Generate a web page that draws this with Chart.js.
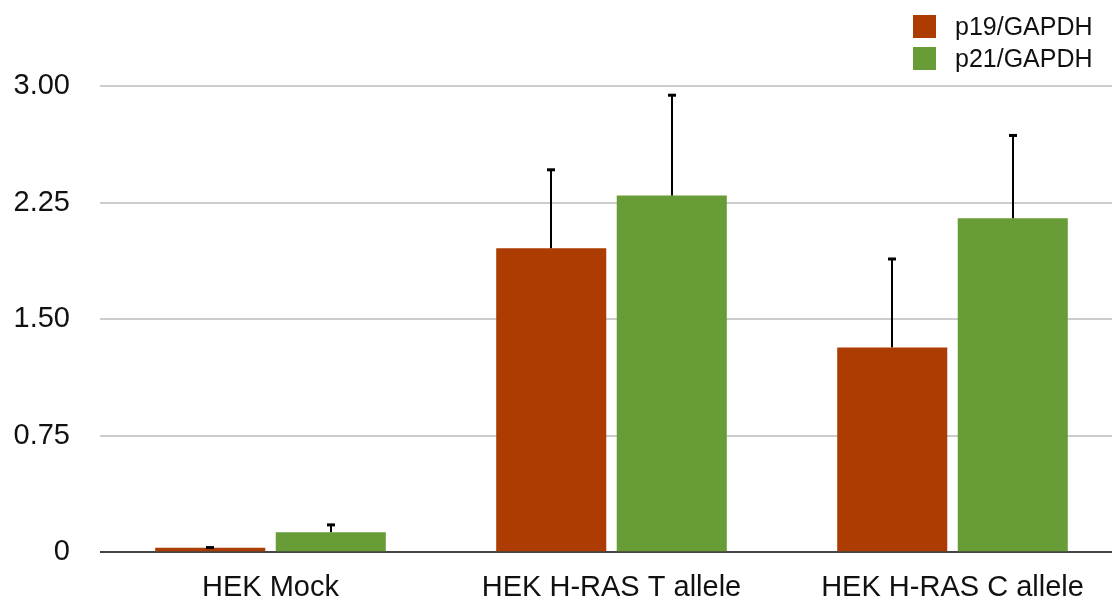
<!DOCTYPE html>
<html>
<head>
<meta charset="utf-8">
<script src="https://cdn.jsdelivr.net/npm/chart.js@4/dist/chart.umd.min.js"></script>
<style>
  html, body { margin: 0; padding: 0; background: #fff; overflow: hidden; }
  /* the original is a crop: the plot runs a little past the right and bottom edges */
  #wrap { position: relative; width: 1112px; height: 597px; overflow: hidden; }
  #chart { display: block; }
  #legend {
    position: absolute; left: 913px; top: 15px;
    font-family: "Liberation Sans", Arial, sans-serif; font-size: 25px; color: #111;
  }
  .item { display: flex; align-items: center; height: 23px; margin-bottom: 9px; }
  .box { width: 23px; height: 23px; margin-right: 19px; }
</style>
</head>
<body>
<div id="wrap">
  <canvas id="chart" width="1123" height="623" style="width:1123px;height:623px"></canvas>
  <div id="legend"></div>
</div>
<script>
const categories = ["HEK Mock", "HEK H-RAS T allele", "HEK H-RAS C allele"];
const seriesNames = ["p19/GAPDH", "p21/GAPDH"];
const p19Values = [0.028, 1.956, 1.318];
const p21Values = [0.129, 2.295, 2.149];
const p19Errors = [0.005, 0.508, 0.572];
const p21Errors = [0.05, 0.649, 0.536];
const yTickValues = [0, 0.75, 1.5, 2.25, 3];
const yTickLabels = ["0", "0.75", "1.50", "2.25", "3.00"];
const seriesColors = ["#ad3c02", "#679c36"];

// upward error bars with a small cap
const errorBars = {
  id: "errorBars",
  afterDatasetsDraw(chart) {
    const ctx = chart.ctx;
    const yScale = chart.scales.y;
    ctx.save();
    ctx.fillStyle = "#000";
    chart.data.datasets.forEach((ds, i) => {
      const meta = chart.getDatasetMeta(i);
      meta.data.forEach((bar, j) => {
        const top = yScale.getPixelForValue(ds.data[j] + ds.errors[j]);
        const x = Math.round(bar.x);
        ctx.fillRect(x - 1, top, 2, bar.y - top);
        ctx.fillRect(x - 4, top - 1, 8, 3);
      });
    });
    ctx.restore();
  },
};

const ctx = document.getElementById("chart").getContext("2d");
const chart = new Chart(ctx, {
  type: "bar",
  data: {
    labels: categories,
    datasets: [
      {
        label: seriesNames[0],
        data: p19Values,
        errors: p19Errors,
        backgroundColor: seriesColors[0],
        borderWidth: 0,
      },
      {
        label: seriesNames[1],
        data: p21Values,
        errors: p21Errors,
        backgroundColor: seriesColors[1],
        borderWidth: 0,
      },
    ],
  },
  options: {
    responsive: false,
    animation: false,
    layout: {
      padding: { top: 86, left: 0, right: 0, bottom: 0 },
    },
    datasets: {
      bar: {
        categoryPercentage: 0.707,
        barPercentage: 0.913,
      },
    },
    plugins: {
      legend: { display: false },
      tooltip: { enabled: false },
    },
    scales: {
      x: {
        grid: { display: false, drawTicks: false },
        border: { display: false },
        ticks: {
          padding: 18,
          color: "#111",
          maxRotation: 0,
          font: { family: "'Liberation Sans', Arial, sans-serif", size: 29 },
        },
      },
      y: {
        min: 0,
        max: 3,
        afterBuildTicks: (scale) => {
          scale.ticks = yTickValues.map((v) => ({ value: v }));
        },
        afterFit: (scale) => {
          scale.width = 100;
        },
        grid: {
          drawTicks: false,
          color: (c) => (c.tick && c.tick.value === 0 ? "#444" : "#cccccc"),
          lineWidth: 2,
        },
        border: { display: false },
        ticks: {
          padding: 30,
          color: "#111",
          font: { family: "'Liberation Sans', Arial, sans-serif", size: 29 },
          callback: (value) => yTickLabels[yTickValues.indexOf(value)],
        },
      },
    },
  },
  plugins: [errorBars],
});

// legend built from the datasets
const legend = document.getElementById("legend");
chart.data.datasets.forEach((ds) => {
  const item = document.createElement("div");
  item.className = "item";
  item.innerHTML = `<span class="box" style="background:${ds.backgroundColor}"></span><span>${ds.label}</span>`;
  legend.appendChild(item);
});
</script>
</body>
</html>
